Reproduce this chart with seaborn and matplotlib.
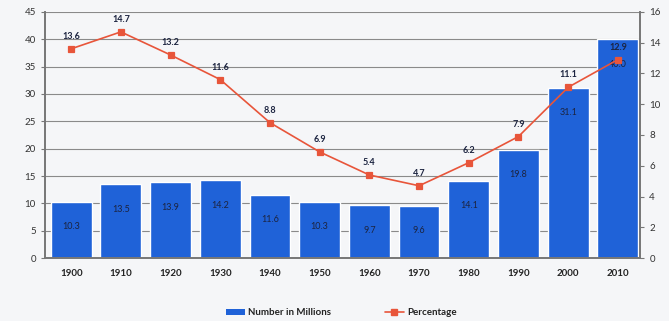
import matplotlib
matplotlib.use("Agg")
import matplotlib.pyplot as plt
from matplotlib.lines import Line2D
from matplotlib.patches import Patch
import seaborn as sns
import pandas as pd

years = ["1900", "1910", "1920", "1930", "1940", "1950",
         "1960", "1970", "1980", "1990", "2000", "2010"]
millions = [10.3, 13.5, 13.9, 14.2, 11.6, 10.3, 9.7, 9.6, 14.1, 19.8, 31.1, 40.0]
percentage = [13.6, 14.7, 13.2, 11.6, 8.8, 6.9, 5.4, 4.7, 6.2, 7.9, 11.1, 12.9]

df = pd.DataFrame({"year": years, "millions": millions, "pct": percentage})

sns.set_theme(style="white")
plt.rcParams["font.family"] = ["Lato", "DejaVu Sans"]

bar_color = "#1f62d8"
line_color = "#e8553a"
text_dark = "#1c2440"

fig = plt.figure(figsize=(6.69, 3.21), dpi=100)
fig.patch.set_facecolor("#f5f6f8")
ax = fig.add_axes([0.067, 0.196, 0.89, 0.767])
ax.set_facecolor("#f5f6f8")

sns.barplot(data=df, x="year", y="millions", color=bar_color, saturation=1,
            width=0.82, ax=ax, zorder=2)
ax.set_ylim(0, 45)
ax.set_yticks(range(0, 46, 5))
ax.set_xlim(-0.53, 11.45)
ax.grid(axis="y", color="#8a8a8a", linewidth=0.8, zorder=0)
ax.set_axisbelow(True)
ax.set_xlabel("")
ax.set_ylabel("")

for i, v in enumerate(millions):
    ax.annotate(f"{v:.1f}", (i, v), xytext=(0, -18), textcoords="offset points",
                ha="center", va="center", fontsize=6.5, color=text_dark)

ax2 = ax.twinx()
sns.pointplot(data=df, x="year", y="pct", color=line_color, markers="s",
              markersize=4, linewidth=1.2, ax=ax2, zorder=4)
ax2.set_ylim(0, 16)
ax2.set_yticks(range(0, 17, 2))
ax2.set_xlim(-0.53, 11.45)
ax2.set_ylabel("")
ax2.set_xlabel("")
for i, v in enumerate(percentage):
    ax2.annotate(f"{v:.1f}", (i, v), xytext=(0, 9), textcoords="offset points",
                 ha="center", va="center", fontsize=6.5, fontweight="bold",
                 color=text_dark)

for a in (ax, ax2):
    a.spines["top"].set_visible(False)
    a.spines["left"].set_color("#777777")
    a.spines["right"].set_color("#777777")
    a.spines["bottom"].set_color("#777777")
    a.tick_params(axis="y", labelsize=7, colors="#333333", length=3,
                  width=0.8, direction="out")
ax.tick_params(axis="y", left=True, color="#777777")
ax2.tick_params(axis="y", right=True, color="#777777")
ax.tick_params(axis="x", labelsize=7, colors="#222222", length=0, pad=8)
for lbl in ax.get_xticklabels():
    lbl.set_fontweight("bold")

handles = [
    Patch(facecolor=bar_color, edgecolor="none", label="Number in Millions"),
    Line2D([0], [0], color=line_color, marker="s", markersize=4,
           linewidth=1.2, label="Percentage"),
]
leg = fig.legend(handles=handles, loc="center", bbox_to_anchor=(0.51, 0.025),
                 ncol=2, frameon=False, fontsize=7, columnspacing=5.5,
                 handlelength=2.0, handleheight=0.7, handletextpad=0.3)
for t in leg.get_texts():
    t.set_color("#222222")
    t.set_fontweight("bold")

fig.savefig("out.png", dpi=100, facecolor=fig.get_facecolor())
